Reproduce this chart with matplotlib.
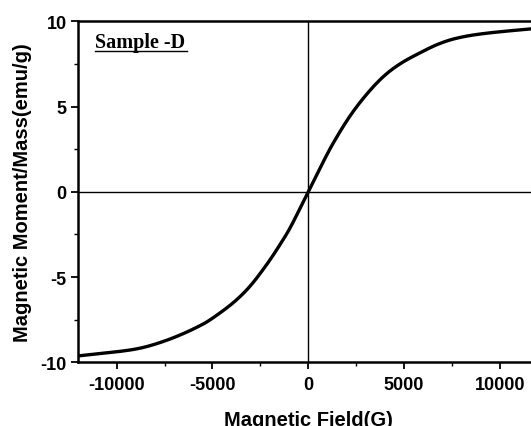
import numpy as np
import matplotlib
matplotlib.use("Agg")
import matplotlib.pyplot as plt

# field (G) and moment/mass (emu/g)
field = [-12000, -10000, -8790, -7740, -6700, -5652, -4958, -3914, -3043,
         -2173, -1477, -955, -433, 0, 610, 1305, 2176, 3048, 3914, 4786,
         5830, 6870, 7910, 9300, 11570, 12000]
moment = [-9.62, -9.38, -9.17, -8.84, -8.40, -7.85, -7.38, -6.50, -5.54,
          -4.27, -3.10, -2.13, -0.98, 0.0, 1.38, 2.86, 4.44, 5.72, 6.75,
          7.50, 8.15, 8.70, 9.05, 9.30, 9.55, 9.58]

xticks = [-10000, -5000, 0, 5000, 10000]
yticks = [-10, -5, 0, 5, 10]

plt.rcParams['font.family'] = ['Liberation Sans', 'DejaVu Sans']
plt.rcParams['axes.unicode_minus'] = False


def catmull_rom(x, y, n=30):
    # smooth curve through the read points
    x = np.asarray(x, float)
    y = np.asarray(y, float)
    px = np.concatenate([[2*x[0]-x[1]], x, [2*x[-1]-x[-2]]])
    py = np.concatenate([[2*y[0]-y[1]], y, [2*y[-1]-y[-2]]])
    outx, outy = [], []
    t = np.linspace(0, 1, n, endpoint=False)
    for i in range(1, len(px)-2):
        for p, out in ((px, outx), (py, outy)):
            p0, p1, p2, p3 = p[i-1], p[i], p[i+1], p[i+2]
            out.extend(0.5*((2*p1) + (-p0+p2)*t + (2*p0-5*p1+4*p2-p3)*t**2
                            + (-p0+3*p1-3*p2+p3)*t**3))
    outx.append(x[-1])
    outy.append(y[-1])
    return np.array(outx), np.array(outy)


fig = plt.figure(figsize=(5.31, 4.27), dpi=100)
ax = fig.add_axes([0.1475, 0.149, 0.866, 0.7988])

xs, ys = catmull_rom(field, moment)
ax.plot(xs, ys, color='black', lw=2.4, zorder=3, solid_capstyle='butt')

ax.axhline(0, color='black', lw=1.0, zorder=2)
ax.axvline(0, color='black', lw=1.0, zorder=2)

ax.set_xlim(-12000, 12000)
ax.set_ylim(-10, 10)
ax.set_xticks(xticks)
ax.set_yticks(yticks)
ax.set_xticks([-7500, -2500, 2500, 7500], minor=True)
ax.set_yticks([-7.5, -2.5, 2.5, 7.5], minor=True)
ax.tick_params(which='major', direction='out', length=5, width=1.3,
               labelsize=13)
ax.tick_params(axis='x', which='major', pad=5)
ax.tick_params(which='minor', direction='out', length=3, width=1.0)
for lab in ax.get_xticklabels() + ax.get_yticklabels():
    lab.set_fontweight('bold')
for s in ax.spines.values():
    s.set_linewidth(1.8)

ax.set_xlabel('Magnetic Field(G)', fontsize=14.5, fontweight='bold', labelpad=12)
ax.set_ylabel('Magnetic Moment/Mass(emu/g)', fontsize=14.5, fontweight='bold',
              labelpad=6)

ax.text(0.037, 0.9245, 'Sample -D', transform=ax.transAxes, fontsize=14.5,
        fontweight='bold', family='Liberation Serif', va='baseline',
        ha='left')
ax.plot([0.037, 0.237], [0.912, 0.912], transform=ax.transAxes,
        color='black', lw=1.0)

fig.savefig('out.png', dpi=100)
